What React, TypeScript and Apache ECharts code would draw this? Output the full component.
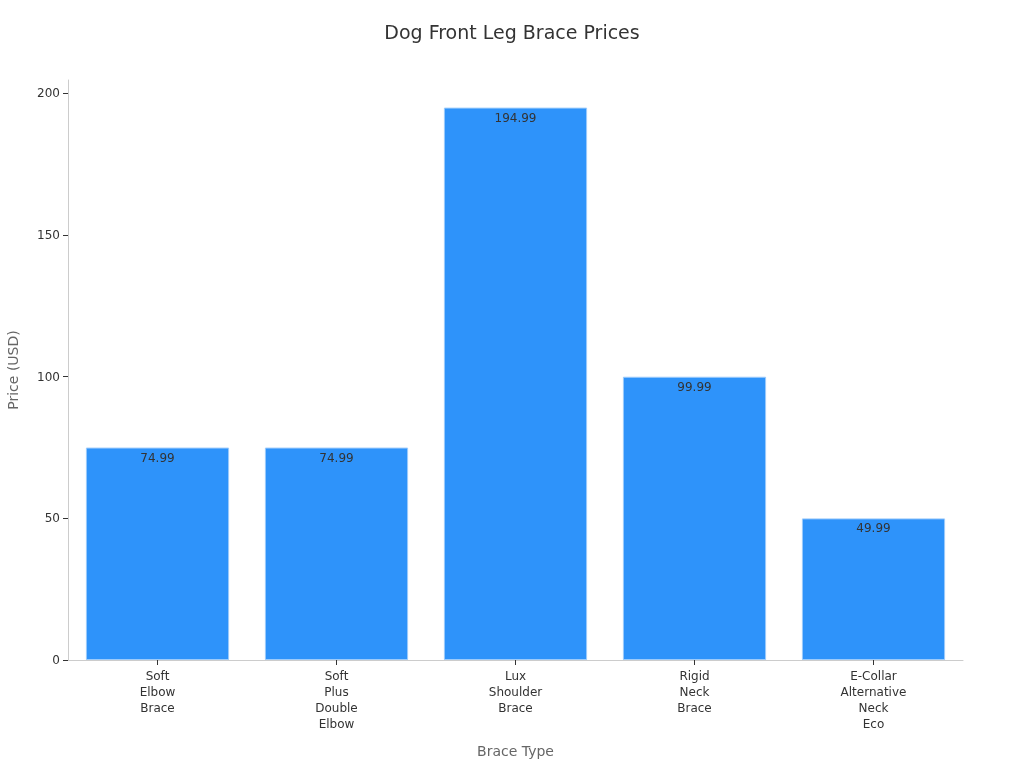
import React, { useEffect, useRef } from "react";
import * as echarts from "echarts";

const categories = [
  "Soft Elbow Brace",
  "Soft Plus Double Elbow",
  "Lux Shoulder Brace",
  "Rigid Neck Brace",
  "E-Collar Alternative Neck Eco",
];
const prices = [74.99, 74.99, 194.99, 99.99, 49.99];
const yTicks = [0, 50, 100, 150, 200];

const App: React.FC = () => {
  const chartRef = useRef<HTMLDivElement>(null);

  useEffect(() => {
    const chart = echarts.init(chartRef.current!, undefined, { renderer: "svg" });
    const font = "'DejaVu Sans', sans-serif";

    const option: echarts.EChartsOption = {
      animation: false,
      textStyle: { fontFamily: font },
      title: {
        text: "Dog Front Leg Brace Prices",
        left: "center",
        top: 17,
        textStyle: { fontSize: 19, fontWeight: "normal", color: "#333", fontFamily: font },
      },
      grid: {
        left: 68,
        right: 61,
        top: 80,
        bottom: 108,
        containLabel: false,
        outerBoundsMode: "none",
      } as any,
      xAxis: {
        type: "category",
        data: categories,
        name: "Brace Type",
        nameLocation: "middle",
        nameGap: 84,
        nameTextStyle: { fontSize: 14, color: "#666" },
        axisLine: { show: true, lineStyle: { color: "#ccc" } },
        axisTick: { show: true, alignWithLabel: true, length: 5, lineStyle: { color: "#333" } },
        axisLabel: {
          interval: 0,
          color: "#333",
          fontSize: 12,
          lineHeight: 16,
          formatter: (v: string) => v.split(" ").join("\n"),
        },
      },
      yAxis: {
        type: "value",
        min: 0,
        max: 204.74,
        name: "Price (USD)",
        nameLocation: "middle",
        nameGap: 48,
        nameTextStyle: { fontSize: 14, color: "#666" },
        splitLine: { show: false },
        axisLine: { show: true, lineStyle: { color: "#ccc" } },
        axisTick: { show: true, customValues: yTicks, lineStyle: { color: "#333" } },
        axisLabel: { customValues: yTicks, color: "#333", fontSize: 12 },
      },
      series: [
        {
          type: "bar",
          data: prices,
          barCategoryGap: "20%",
          itemStyle: { color: "#2E93FA", borderColor: "#9ccbfb", borderWidth: 1 },
          label: {
            show: true,
            position: "insideTop",
            color: "#333",
            fontSize: 12,
            distance: 4,
          },
        },
      ],
    };

    chart.setOption(option);
    return () => {
      chart.dispose();
    };
  }, []);

  return (
    <div
      ref={chartRef}
      style={{ position: "fixed", left: 0, top: 0, width: "1024px", height: "768px" }}
    />
  );
};

export default App;
